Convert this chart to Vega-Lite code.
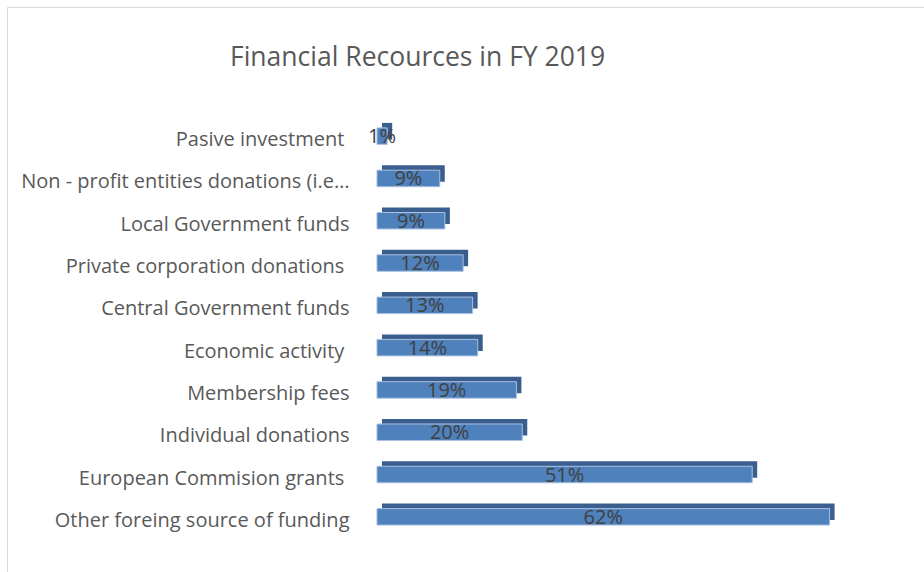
{
  "$schema": "https://vega.github.io/schema/vega-lite/v6.json",
  "autosize": {"type": "none"},
  "padding": {"left": 7, "top": 7, "right": -20, "bottom": -74},
  "width": 937,
  "height": 639,
  "background": "white",
  "config": {
    "view": {"stroke": "#d9d9d9", "strokeWidth": 1},
    "font": "Open Sans"
  },
  "title": {
    "text": "Financial Recources in FY 2019",
    "anchor": "start",
    "frame": "group",
    "orient": "top",
    "offset": 0,
    "dx": 223,
    "dy": 85,
    "baseline": "alphabetic",
    "font": "Open Sans",
    "fontSize": 26.5,
    "fontWeight": "normal",
    "color": "#595959"
  },
  "data": {
    "values": [
      {"source": "Pasive investment\u00a0\u200b", "value": 0.014},
      {"source": "Non - profit entities donations (i.e…", "value": 0.086},
      {"source": "Local Government funds", "value": 0.093},
      {"source": "Private corporation donations\u00a0\u200b", "value": 0.118},
      {"source": "Central Government funds", "value": 0.131},
      {"source": "Economic activity\u00a0\u200b", "value": 0.138},
      {"source": "Membership fees", "value": 0.191},
      {"source": "Individual donations", "value": 0.199},
      {"source": "European Commision grants\u00a0\u200b", "value": 0.514},
      {"source": "Other foreing source of funding", "value": 0.62}
    ]
  },
  "encoding": {
    "y": {
      "field": "source",
      "type": "nominal",
      "sort": null,
      "scale": {"paddingInner": 0, "paddingOuter": 0, "range": [108, 531]},
      "axis": {
        "title": null,
        "domain": false,
        "ticks": false,
        "offset": -370,
        "labelPadding": 28,
        "labelLimit": 400,
        "labelFont": "Open Sans",
        "labelFontSize": 20,
        "labelColor": "#595959",
        "labelBaseline": "middle",
        "labelOffset": 4
      }
    }
  },
  "resolve": {"scale": {"x": "independent"}},
  "layer": [
    {
      "mark": {"type": "bar", "color": "#3a5f8f", "height": {"band": 0.39}, "xOffset": 5, "x2Offset": 2, "yOffset": -5, "y2Offset": -5},
      "encoding": {
        "x": {"field": "value", "type": "quantitative", "scale": {"domain": [-0.5068, 0.7767], "nice": false, "zero": false}, "axis": null}
      }
    },
    {
      "mark": {"type": "bar", "color": "#4f81bd", "stroke": "#a9c1e0", "strokeWidth": 1, "height": {"band": 0.39}},
      "encoding": {
        "x": {"field": "value", "type": "quantitative", "scale": {"domain": [-0.5068, 0.7767], "nice": false, "zero": false}, "axis": null}
      }
    },
    {
      "mark": {"type": "text", "font": "Open Sans", "fontSize": 20, "color": "#404040", "baseline": "middle", "align": "center", "dy": 1},
      "encoding": {
        "x": {"field": "value", "type": "quantitative", "scale": {"domain": [-1.0136, 1.5534], "nice": false, "zero": false}, "axis": null},
        "text": {"field": "value", "type": "quantitative", "format": ".0%"}
      }
    }
  ]
}
